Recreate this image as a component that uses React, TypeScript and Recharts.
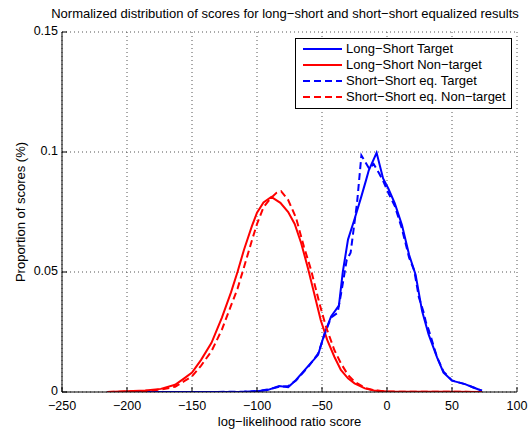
import React from 'react';
import { LineChart, Line, XAxis, YAxis, CartesianGrid, Legend } from 'recharts';

// score axis ticks
const xTicks = [-250, -200, -150, -100, -50, 0, 50, 100];
const yTicks = [0, 0.05, 0.1, 0.15];

// Long-Short target (blue solid)
const lsTargetScore = [-215, -150, -110, -100, -92, -83, -76, -70, -61, -53, -48, -43, -37, -34, -30, -25, -20, -16, -14, -8, -3, 1, 6, 11.5, 17, 22, 27, 32, 38.5, 43.5, 50, 55, 60, 66, 73];
const lsTargetProp = [0, 0, 0.0001, 0.0003, 0.0008, 0.0025, 0.002, 0.005, 0.0106, 0.0155, 0.0245, 0.0315, 0.036, 0.05, 0.0635, 0.072, 0.081, 0.0885, 0.0924, 0.0997, 0.089, 0.0848, 0.0786, 0.0696, 0.0572, 0.0489, 0.0337, 0.024, 0.0144, 0.0081, 0.0047, 0.004, 0.0033, 0.002, 0.0005];

// Long-Short non-target (red solid)
const lsNonScore = [-215, -200, -186, -174, -163, -156, -150, -143, -135, -127, -120, -115, -110, -104, -100, -95, -89, -82, -76, -71, -66, -61, -56, -51, -46, -40.5, -35.5, -30, -25, -17, -10, 0, 20, 50, 73];
const lsNonProp = [0, 0.0003, 0.0006, 0.0013, 0.003, 0.0057, 0.0081, 0.0134, 0.0205, 0.031, 0.0415, 0.05, 0.0593, 0.069, 0.0747, 0.079, 0.0813, 0.0788, 0.075, 0.07, 0.062, 0.052, 0.041, 0.03, 0.0217, 0.0147, 0.0092, 0.0057, 0.0036, 0.0015, 0.0006, 0.0002, 0.0001, 0.0001, 0];

// Short-Short eq. target (blue dashed)
const ssTargetScore = [-215, -150, -110, -100, -92, -83, -76, -70, -61, -53, -48, -43, -38, -35, -31, -28, -23, -19.7, -13.6, -10.3, -6, -3, 1, 6, 11.5, 17, 21, 24.5, 28, 30, 32, 38.5, 43.5, 50, 55, 60, 66, 73];
const ssTargetProp = [0, 0, 0.0001, 0.0004, 0.001, 0.0022, 0.0025, 0.0048, 0.0102, 0.016, 0.024, 0.031, 0.033, 0.042, 0.055, 0.058, 0.079, 0.0986, 0.093, 0.095, 0.091, 0.088, 0.083, 0.0775, 0.068, 0.056, 0.0505, 0.0395, 0.0335, 0.029, 0.026, 0.0145, 0.0085, 0.0048, 0.004, 0.0033, 0.002, 0.0005];

// Short-Short eq. non-target (red dashed)
const ssNonScore = [-215, -200, -186, -174, -163, -156, -150, -143, -135, -127, -120, -115, -110, -104, -100, -95, -89, -85, -81.5, -76, -70, -64, -58.5, -52, -47, -40.5, -35.5, -30, -25, -17, -10, 0, 20, 50, 73];
const ssNonProp = [0, 0.0002, 0.0004, 0.001, 0.0022, 0.0045, 0.0065, 0.011, 0.017, 0.026, 0.036, 0.043, 0.052, 0.063, 0.07, 0.077, 0.081, 0.083, 0.0837, 0.08, 0.0726, 0.0607, 0.051, 0.037, 0.0273, 0.0175, 0.012, 0.0071, 0.0043, 0.0017, 0.0007, 0.0002, 0.0001, 0.0001, 0];

const FONT = '"Liberation Sans", Arial, sans-serif';
const BLUE = '#0000ff';
const RED = '#ff0000';
const DASH = '7 4';

const toPoints = (xs: number[], ys: number[]) => xs.map((x, i) => ({ x, y: ys[i] }));

const series = [
  { name: 'Long\u2212Short Target', color: BLUE, dashed: false, data: toPoints(lsTargetScore, lsTargetProp) },
  { name: 'Long\u2212Short Non\u2212target', color: RED, dashed: false, data: toPoints(lsNonScore, lsNonProp) },
  { name: 'Short\u2212Short eq. Target', color: BLUE, dashed: true, data: toPoints(ssTargetScore, ssTargetProp) },
  { name: 'Short\u2212Short eq. Non\u2212target', color: RED, dashed: true, data: toPoints(ssNonScore, ssNonProp) },
];

const fmtX = (v: number) => (v < 0 ? '\u2212' + Math.abs(v) : String(v));

const tickStyle = { fill: '#000', fontSize: 12.5, fontFamily: FONT };

function LegendBox() {
  return (
    <div style={{ border: '1px solid #000', background: '#fff', width: 215, padding: '2px 0 3px 0', fontFamily: FONT, fontSize: 13, lineHeight: '16px' }}>
      {series.map((s) => (
        <div key={s.name} style={{ display: 'flex', alignItems: 'center', height: 16 }}>
          <svg width={50} height={10} style={{ flex: 'none' }}>
            <line x1={7} x2={46} y1={5} y2={5} stroke={s.color} strokeWidth={2} strokeDasharray={s.dashed ? DASH : undefined} />
          </svg>
          <span>{s.name}</span>
        </div>
      ))}
    </div>
  );
}

export default function App() {
  return (
    <div style={{ position: 'absolute', left: 0, top: 0, width: 529, height: 429, background: '#fff' }}>
      <div style={{ position: 'absolute', left: 0, width: 570, top: 6, textAlign: 'center', fontFamily: FONT, fontSize: 13, color: '#000' }}>
        Normalized distribution of scores for long{'\u2212'}short and short{'\u2212'}short equalized results
      </div>
      <LineChart width={529} height={429} margin={{ top: 32, right: 12, left: 0, bottom: 0 }}>
        <CartesianGrid stroke="#555" strokeDasharray="1 3" />
        <XAxis
          dataKey="x"
          type="number"
          domain={[-250, 100]}
          ticks={xTicks}
          tickFormatter={fmtX}
          height={37}
          tickSize={-5}
          tickMargin={11}
          stroke="#000"
          tick={{ ...tickStyle, dy: 3 }}
          allowDataOverflow
          label={{ value: 'log\u2212likelihood ratio score', position: 'insideBottom', offset: 3, fill: '#000', fontSize: 13, fontFamily: FONT }}
        />
        <XAxis xAxisId="top" orientation="top" type="number" domain={[-250, 100]} ticks={xTicks} height={0} tickSize={-5} tick={false} stroke="#000" allowDataOverflow />
        <YAxis
          type="number"
          domain={[0, 0.15]}
          ticks={yTicks}
          width={62}
          tickSize={-5}
          tickMargin={9}
          stroke="#000"
          tick={{ ...tickStyle, dy: -1 }}
          allowDataOverflow
          label={{ value: 'Proportion of scores (%)', angle: -90, position: 'center', dx: -11, fill: '#000', fontSize: 13, fontFamily: FONT }}
        />
        <YAxis yAxisId="right" orientation="right" type="number" domain={[0, 0.15]} ticks={yTicks} width={0} tickSize={-5} tick={false} stroke="#000" allowDataOverflow />
        {series.map((s) => (
          <Line
            key={s.name}
            data={s.data}
            dataKey="y"
            name={s.name}
            type="linear"
            stroke={s.color}
            strokeWidth={2}
            strokeDasharray={s.dashed ? DASH : undefined}
            dot={false}
            activeDot={false}
            isAnimationActive={false}
          />
        ))}
        <Legend
          layout="vertical"
          align="center"
          verticalAlign="middle"
          content={() => <LegendBox />}
          wrapperStyle={{ left: 295, top: 38, width: 217 }}
        />
      </LineChart>
    </div>
  );
}
